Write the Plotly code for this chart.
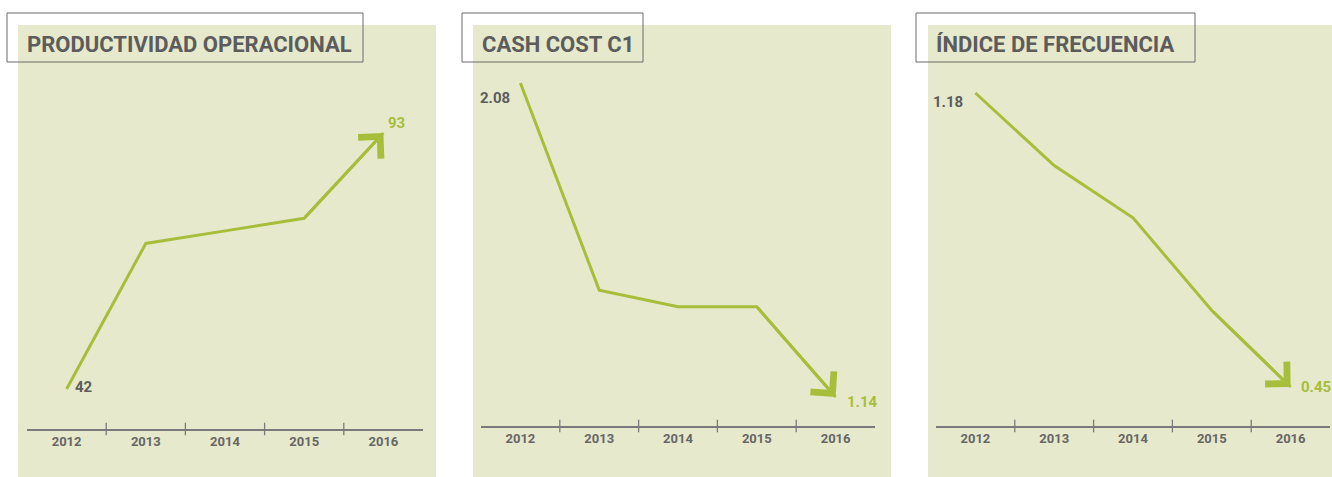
import plotly.graph_objects as go

W, H = 1332, 477

years = [2012, 2013, 2014, 2015, 2016]
year_labels = ["2012", "2013", "2014", "2015", "2016"]
boundaries = [2012.5, 2013.5, 2014.5, 2015.5]

titles = ["PRODUCTIVIDAD OPERACIONAL", "CASH COST C1", "ÍNDICE DE FRECUENCIA"]
productividad = [42, 71, 73.5, 76, 93]
cash_cost = [2.08, 1.46, 1.41, 1.41, 1.14]
indice_frecuencia = [1.18, 1.00, 0.87, 0.64, 0.45]
start_labels = ["42", "2.08", "1.18"]
end_labels = ["93", "1.14", "0.45"]

series = [productividad, cash_cost, indice_frecuencia]

GREEN = "#a7be3a"
BG = "#e6e9cc"
GRAY = "#5c5c5c"
AXIS = "#7a7a7a"
FONT = "Roboto, sans-serif"

# layout geometry (pixels)
bg_x = [(18, 436), (473, 891), (928, 1332)]
axis_x = [(27, 423), (481, 875), (936, 1330)]
axis_y = [429, 426, 426]
top_y = 25
title_box = [(7, 363), (462, 643), (916, 1195)]
title_x = [25, 480, 934]
yranges = [[34.03, 114.52], [1.0532, 2.2536], [0.3532, 1.3488]]

# label offsets (pixels): (xanchor, xshift, yshift)
start_off = [("left", 6, 2), ("right", -8, -15), ("right", -10, -9)]
end_off = [("left", 3, 10), ("left", 9, -5), ("left", 8, 0)]

fig = go.Figure()
shapes = []
annotations = []

for i in range(3):
    sfx = "" if i == 0 else str(i + 1)
    xa, ya = "x" + sfx, "y" + sfx
    vals = series[i]

    # background panel
    shapes.append(dict(type="rect", xref="paper", yref="paper",
                       x0=bg_x[i][0] / W, x1=bg_x[i][1] / W,
                       y0=0, y1=(H - top_y) / H,
                       fillcolor=BG, line=dict(width=0), layer="below"))
    # title box
    shapes.append(dict(type="rect", xref="paper", yref="paper",
                       x0=title_box[i][0] / W, x1=title_box[i][1] / W,
                       y0=(H - 62) / H, y1=(H - 13) / H,
                       fillcolor="rgba(0,0,0,0)", line=dict(color="#6a6a6a", width=1)))
    annotations.append(dict(xref="paper", yref="paper", x=title_x[i] / W, y=(H - 44) / H,
                            xanchor="left", yanchor="middle", showarrow=False,
                            text=titles[i],
                            font=dict(family=FONT, size=22, color=GRAY, weight="bold")))

    # line
    fig.add_trace(go.Scatter(x=years, y=vals, mode="lines",
                             line=dict(color=GREEN, width=3),
                             xaxis=xa, yaxis=ya, showlegend=False, hoverinfo="skip"))
    # boundary tick marks on the axis
    fig.add_trace(go.Scatter(x=boundaries, y=[yranges[i][0]] * len(boundaries), mode="markers",
                             marker=dict(symbol="line-ns", size=9,
                                         line=dict(color=AXIS, width=1.3)),
                             cliponaxis=False,
                             xaxis=xa, yaxis=ya, showlegend=False, hoverinfo="skip"))
    # arrow head on the final segment
    annotations.append(dict(xref=xa, yref=ya, axref=xa, ayref=ya,
                            x=years[4], y=vals[4], ax=years[3], ay=vals[3],
                            text="", showarrow=True, arrowhead=4, arrowsize=2.0,
                            arrowwidth=3, arrowcolor=GREEN, standoff=0))
    # value labels
    a, xs, ys = start_off[i]
    annotations.append(dict(xref=xa, yref=ya, x=years[0], y=vals[0], text=start_labels[i],
                            showarrow=False, xanchor=a, yanchor="middle", xshift=xs, yshift=ys,
                            font=dict(family=FONT, size=15, color=GRAY, weight="bold")))
    a, xs, ys = end_off[i]
    annotations.append(dict(xref=xa, yref=ya, x=years[4], y=vals[4], text=end_labels[i],
                            showarrow=False, xanchor=a, yanchor="middle", xshift=xs, yshift=ys,
                            font=dict(family=FONT, size=15, color=GREEN, weight="bold")))

    fig.layout["xaxis" + sfx] = dict(
        domain=[axis_x[i][0] / W, axis_x[i][1] / W], anchor=ya,
        range=[2011.5, 2016.5], showgrid=False, zeroline=False,
        showline=True, linecolor=AXIS, linewidth=1.5,
        tickmode="array", tickvals=years, ticktext=year_labels, ticks="",
        tickfont=dict(family=FONT, size=13, color="#666666", weight="bold"),
        fixedrange=True)
    fig.layout["yaxis" + sfx] = dict(
        domain=[(H - axis_y[i]) / H, (H - top_y) / H], anchor=xa,
        range=yranges[i], visible=False, fixedrange=True)

fig.update_layout(width=W, height=H, margin=dict(l=0, r=0, t=0, b=0),
                  paper_bgcolor="white", plot_bgcolor="rgba(0,0,0,0)",
                  shapes=shapes, annotations=annotations, showlegend=False)

fig.write_html("out.html", config={"displayModeBar": False})
